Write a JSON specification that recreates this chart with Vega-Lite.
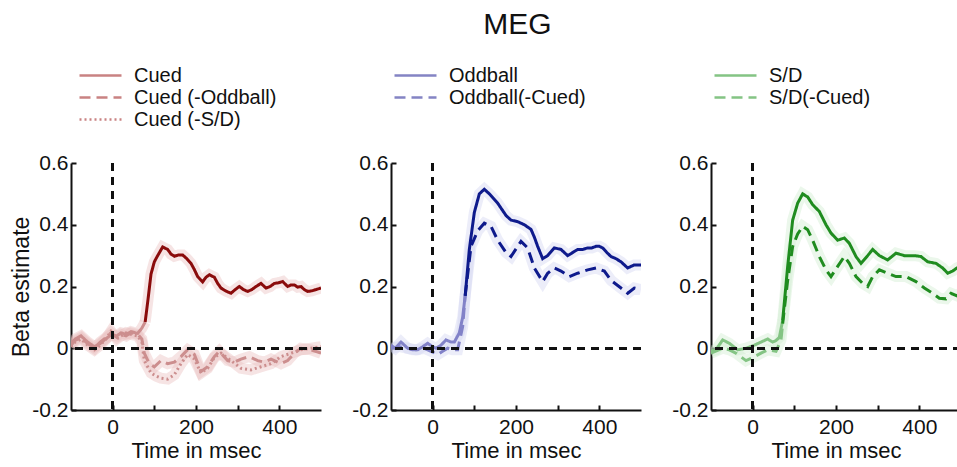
{
  "$schema": "https://vega.github.io/schema/vega-lite/v6.json",
  "padding": {"left": 10, "top": 10, "right": 0, "bottom": 0},
  "background": "white",
  "title": {"text": "MEG", "fontSize": 30, "fontWeight": "normal", "anchor": "middle", "color": "#111", "offset": 24, "dx": 31},
  "config": {
    "font": "Liberation Sans",
    "view": {"stroke": null},
    "axis": {"domainColor": "#111", "domainWidth": 2, "tickColor": "#111", "tickWidth": 2, "tickSize": -5, "labelColor": "#111", "labelFontSize": 21, "titleFontSize": 23, "titleFontWeight": "normal", "titleColor": "#111", "grid": false},
    "axisX": {"labelPadding": 11, "titlePadding": 3, "titleFontSize": 22},
    "axisY": {"labelPadding": 8},
    "legend": {"orient": "none", "symbolType": "M-2.1,0H2.1", "symbolSize": 400, "symbolStrokeWidth": 2.5, "symbolFillColor": "transparent", "labelFontSize": 20, "labelColor": "#111", "labelOffset": 22, "rowPadding": -1, "padding": 0, "title": null}
  },
  "datasets": {
    "cued": [
      {"s":"Cued","k":"light","x":-100,"y":0.016},{"s":"Cued","k":"light","x":-90,"y":0.03},{"s":"Cued","k":"light","x":-76,"y":0.04},{"s":"Cued","k":"light","x":-60,"y":0.02},{"s":"Cued","k":"light","x":-44,"y":0.005},{"s":"Cued","k":"light","x":-30,"y":0.015},{"s":"Cued","k":"light","x":-20,"y":0.027},{"s":"Cued","k":"light","x":-4,"y":0.043},{"s":"Cued","k":"light","x":10,"y":0.04},{"s":"Cued","k":"light","x":20,"y":0.05},{"s":"Cued","k":"light","x":32,"y":0.045},{"s":"Cued","k":"light","x":44,"y":0.054},{"s":"Cued","k":"light","x":60,"y":0.048},{"s":"Cued","k":"light","x":70,"y":0.065},{"s":"Cued","k":"light","x":78,"y":0.085},
      {"s":"Cued","k":"dark","x":78,"y":0.085},{"s":"Cued","k":"dark","x":85,"y":0.16},{"s":"Cued","k":"dark","x":92,"y":0.24},{"s":"Cued","k":"dark","x":100,"y":0.28},{"s":"Cued","k":"dark","x":108,"y":0.30},{"s":"Cued","k":"dark","x":120,"y":0.328},{"s":"Cued","k":"dark","x":132,"y":0.32},{"s":"Cued","k":"dark","x":140,"y":0.305},{"s":"Cued","k":"dark","x":148,"y":0.298},{"s":"Cued","k":"dark","x":158,"y":0.302},{"s":"Cued","k":"dark","x":168,"y":0.302},{"s":"Cued","k":"dark","x":178,"y":0.29},{"s":"Cued","k":"dark","x":188,"y":0.275},{"s":"Cued","k":"dark","x":196,"y":0.255},{"s":"Cued","k":"dark","x":204,"y":0.232},{"s":"Cued","k":"dark","x":216,"y":0.215},{"s":"Cued","k":"dark","x":224,"y":0.23},{"s":"Cued","k":"dark","x":232,"y":0.238},{"s":"Cued","k":"dark","x":244,"y":0.23},{"s":"Cued","k":"dark","x":252,"y":0.21},{"s":"Cued","k":"dark","x":260,"y":0.195},{"s":"Cued","k":"dark","x":272,"y":0.185},{"s":"Cued","k":"dark","x":284,"y":0.178},{"s":"Cued","k":"dark","x":294,"y":0.19},{"s":"Cued","k":"dark","x":304,"y":0.2},{"s":"Cued","k":"dark","x":314,"y":0.19},{"s":"Cued","k":"dark","x":324,"y":0.184},{"s":"Cued","k":"dark","x":334,"y":0.19},{"s":"Cued","k":"dark","x":344,"y":0.2},{"s":"Cued","k":"dark","x":356,"y":0.21},{"s":"Cued","k":"dark","x":368,"y":0.195},{"s":"Cued","k":"dark","x":378,"y":0.2},{"s":"Cued","k":"dark","x":388,"y":0.21},{"s":"Cued","k":"dark","x":398,"y":0.212},{"s":"Cued","k":"dark","x":408,"y":0.216},{"s":"Cued","k":"dark","x":420,"y":0.2},{"s":"Cued","k":"dark","x":428,"y":0.205},{"s":"Cued","k":"dark","x":436,"y":0.205},{"s":"Cued","k":"dark","x":444,"y":0.198},{"s":"Cued","k":"dark","x":452,"y":0.2},{"s":"Cued","k":"dark","x":460,"y":0.19},{"s":"Cued","k":"dark","x":468,"y":0.184},{"s":"Cued","k":"dark","x":478,"y":0.186},{"s":"Cued","k":"dark","x":488,"y":0.19},{"s":"Cued","k":"dark","x":500,"y":0.195},
      {"s":"Cued (-Oddball)","k":"light","x":-100,"y":0.01},{"s":"Cued (-Oddball)","k":"light","x":-90,"y":0.025},{"s":"Cued (-Oddball)","k":"light","x":-76,"y":0.035},{"s":"Cued (-Oddball)","k":"light","x":-60,"y":0.015},{"s":"Cued (-Oddball)","k":"light","x":-44,"y":0.0},{"s":"Cued (-Oddball)","k":"light","x":-30,"y":0.02},{"s":"Cued (-Oddball)","k":"light","x":-16,"y":0.035},{"s":"Cued (-Oddball)","k":"light","x":-4,"y":0.05},{"s":"Cued (-Oddball)","k":"light","x":10,"y":0.035},{"s":"Cued (-Oddball)","k":"light","x":20,"y":0.045},{"s":"Cued (-Oddball)","k":"light","x":32,"y":0.04},{"s":"Cued (-Oddball)","k":"light","x":44,"y":0.05},{"s":"Cued (-Oddball)","k":"light","x":60,"y":0.045},{"s":"Cued (-Oddball)","k":"light","x":70,"y":0.03},{"s":"Cued (-Oddball)","k":"light","x":76,"y":-0.016},{"s":"Cued (-Oddball)","k":"light","x":88,"y":-0.05},{"s":"Cued (-Oddball)","k":"light","x":100,"y":-0.06},{"s":"Cued (-Oddball)","k":"light","x":116,"y":-0.04},{"s":"Cued (-Oddball)","k":"light","x":132,"y":-0.05},{"s":"Cued (-Oddball)","k":"light","x":148,"y":-0.045},{"s":"Cued (-Oddball)","k":"light","x":164,"y":-0.027},{"s":"Cued (-Oddball)","k":"light","x":180,"y":-0.005},{"s":"Cued (-Oddball)","k":"light","x":196,"y":-0.02},{"s":"Cued (-Oddball)","k":"light","x":212,"y":-0.075},{"s":"Cued (-Oddball)","k":"light","x":228,"y":-0.06},{"s":"Cued (-Oddball)","k":"light","x":244,"y":-0.027},{"s":"Cued (-Oddball)","k":"light","x":256,"y":-0.01},{"s":"Cued (-Oddball)","k":"light","x":276,"y":-0.04},{"s":"Cued (-Oddball)","k":"light","x":292,"y":-0.045},{"s":"Cued (-Oddball)","k":"light","x":308,"y":-0.035},{"s":"Cued (-Oddball)","k":"light","x":328,"y":-0.027},{"s":"Cued (-Oddball)","k":"light","x":348,"y":-0.04},{"s":"Cued (-Oddball)","k":"light","x":364,"y":-0.045},{"s":"Cued (-Oddball)","k":"light","x":380,"y":-0.035},{"s":"Cued (-Oddball)","k":"light","x":404,"y":-0.05},{"s":"Cued (-Oddball)","k":"light","x":420,"y":-0.04},{"s":"Cued (-Oddball)","k":"light","x":436,"y":-0.016},{"s":"Cued (-Oddball)","k":"light","x":452,"y":0.0},{"s":"Cued (-Oddball)","k":"light","x":476,"y":-0.005},{"s":"Cued (-Oddball)","k":"light","x":500,"y":-0.016},
      {"s":"Cued (-S/D)","k":"light","x":-100,"y":0.005},{"s":"Cued (-S/D)","k":"light","x":-90,"y":0.02},{"s":"Cued (-S/D)","k":"light","x":-76,"y":0.03},{"s":"Cued (-S/D)","k":"light","x":-60,"y":0.01},{"s":"Cued (-S/D)","k":"light","x":-44,"y":-0.005},{"s":"Cued (-S/D)","k":"light","x":-30,"y":0.01},{"s":"Cued (-S/D)","k":"light","x":-16,"y":0.03},{"s":"Cued (-S/D)","k":"light","x":-4,"y":0.055},{"s":"Cued (-S/D)","k":"light","x":10,"y":0.03},{"s":"Cued (-S/D)","k":"light","x":20,"y":0.04},{"s":"Cued (-S/D)","k":"light","x":32,"y":0.05},{"s":"Cued (-S/D)","k":"light","x":44,"y":0.045},{"s":"Cued (-S/D)","k":"light","x":60,"y":0.04},{"s":"Cued (-S/D)","k":"light","x":70,"y":0.02},{"s":"Cued (-S/D)","k":"light","x":76,"y":-0.04},{"s":"Cued (-S/D)","k":"light","x":92,"y":-0.08},{"s":"Cued (-S/D)","k":"light","x":104,"y":-0.09},{"s":"Cued (-S/D)","k":"light","x":116,"y":-0.097},{"s":"Cued (-S/D)","k":"light","x":132,"y":-0.1},{"s":"Cued (-S/D)","k":"light","x":148,"y":-0.086},{"s":"Cued (-S/D)","k":"light","x":164,"y":-0.05},{"s":"Cued (-S/D)","k":"light","x":180,"y":-0.02},{"s":"Cued (-S/D)","k":"light","x":196,"y":-0.035},{"s":"Cued (-S/D)","k":"light","x":212,"y":-0.08},{"s":"Cued (-S/D)","k":"light","x":228,"y":-0.065},{"s":"Cued (-S/D)","k":"light","x":244,"y":-0.03},{"s":"Cued (-S/D)","k":"light","x":260,"y":-0.016},{"s":"Cued (-S/D)","k":"light","x":284,"y":-0.04},{"s":"Cued (-S/D)","k":"light","x":308,"y":-0.065},{"s":"Cued (-S/D)","k":"light","x":332,"y":-0.07},{"s":"Cued (-S/D)","k":"light","x":356,"y":-0.06},{"s":"Cued (-S/D)","k":"light","x":380,"y":-0.05},{"s":"Cued (-S/D)","k":"light","x":404,"y":-0.027},{"s":"Cued (-S/D)","k":"light","x":428,"y":-0.016},{"s":"Cued (-S/D)","k":"light","x":452,"y":-0.005},{"s":"Cued (-S/D)","k":"light","x":476,"y":0.0},{"s":"Cued (-S/D)","k":"light","x":500,"y":0.005}
    ],
    "odd": [
      {"s":"Oddball","k":"light","x":-100,"y":0.01},{"s":"Oddball","k":"light","x":-90,"y":0.0},{"s":"Oddball","k":"light","x":-76,"y":0.02},{"s":"Oddball","k":"light","x":-60,"y":0.0},{"s":"Oddball","k":"light","x":-48,"y":-0.005},{"s":"Oddball","k":"light","x":-36,"y":-0.005},{"s":"Oddball","k":"light","x":-24,"y":0.005},{"s":"Oddball","k":"light","x":-12,"y":0.016},{"s":"Oddball","k":"light","x":0,"y":0.005},{"s":"Oddball","k":"light","x":8,"y":0.0},{"s":"Oddball","k":"light","x":20,"y":0.01},{"s":"Oddball","k":"light","x":32,"y":0.027},{"s":"Oddball","k":"light","x":44,"y":0.02},{"s":"Oddball","k":"light","x":52,"y":0.02},{"s":"Oddball","k":"light","x":64,"y":0.05},{"s":"Oddball","k":"light","x":72,"y":0.1},{"s":"Oddball","k":"light","x":78,"y":0.17},
      {"s":"Oddball","k":"dark","x":78,"y":0.17},{"s":"Oddball","k":"dark","x":88,"y":0.32},{"s":"Oddball","k":"dark","x":100,"y":0.44},{"s":"Oddball","k":"dark","x":112,"y":0.5},{"s":"Oddball","k":"dark","x":124,"y":0.515},{"s":"Oddball","k":"dark","x":136,"y":0.5},{"s":"Oddball","k":"dark","x":146,"y":0.485},{"s":"Oddball","k":"dark","x":156,"y":0.47},{"s":"Oddball","k":"dark","x":166,"y":0.45},{"s":"Oddball","k":"dark","x":176,"y":0.43},{"s":"Oddball","k":"dark","x":188,"y":0.415},{"s":"Oddball","k":"dark","x":204,"y":0.41},{"s":"Oddball","k":"dark","x":220,"y":0.4},{"s":"Oddball","k":"dark","x":236,"y":0.385},{"s":"Oddball","k":"dark","x":244,"y":0.36},{"s":"Oddball","k":"dark","x":252,"y":0.33},{"s":"Oddball","k":"dark","x":264,"y":0.29},{"s":"Oddball","k":"dark","x":276,"y":0.3},{"s":"Oddball","k":"dark","x":292,"y":0.325},{"s":"Oddball","k":"dark","x":308,"y":0.32},{"s":"Oddball","k":"dark","x":324,"y":0.3},{"s":"Oddball","k":"dark","x":336,"y":0.31},{"s":"Oddball","k":"dark","x":348,"y":0.32},{"s":"Oddball","k":"dark","x":360,"y":0.32},{"s":"Oddball","k":"dark","x":372,"y":0.325},{"s":"Oddball","k":"dark","x":382,"y":0.325},{"s":"Oddball","k":"dark","x":392,"y":0.33},{"s":"Oddball","k":"dark","x":400,"y":0.33},{"s":"Oddball","k":"dark","x":408,"y":0.325},{"s":"Oddball","k":"dark","x":418,"y":0.31},{"s":"Oddball","k":"dark","x":428,"y":0.297},{"s":"Oddball","k":"dark","x":440,"y":0.29},{"s":"Oddball","k":"dark","x":452,"y":0.28},{"s":"Oddball","k":"dark","x":460,"y":0.27},{"s":"Oddball","k":"dark","x":468,"y":0.26},{"s":"Oddball","k":"dark","x":476,"y":0.265},{"s":"Oddball","k":"dark","x":484,"y":0.27},{"s":"Oddball","k":"dark","x":492,"y":0.27},{"s":"Oddball","k":"dark","x":500,"y":0.27},
      {"s":"Oddball(-Cued)","k":"light","x":-100,"y":0.0},{"s":"Oddball(-Cued)","k":"light","x":-80,"y":0.005},{"s":"Oddball(-Cued)","k":"light","x":-60,"y":0.0},{"s":"Oddball(-Cued)","k":"light","x":-40,"y":-0.005},{"s":"Oddball(-Cued)","k":"light","x":-20,"y":0.0},{"s":"Oddball(-Cued)","k":"light","x":-4,"y":-0.01},{"s":"Oddball(-Cued)","k":"light","x":12,"y":-0.02},{"s":"Oddball(-Cued)","k":"light","x":24,"y":-0.01},{"s":"Oddball(-Cued)","k":"light","x":36,"y":0.0},{"s":"Oddball(-Cued)","k":"light","x":48,"y":-0.005},{"s":"Oddball(-Cued)","k":"light","x":60,"y":-0.005},{"s":"Oddball(-Cued)","k":"light","x":72,"y":0.07},{"s":"Oddball(-Cued)","k":"light","x":78,"y":0.17},
      {"s":"Oddball(-Cued)","k":"dark","x":78,"y":0.17},{"s":"Oddball(-Cued)","k":"dark","x":92,"y":0.33},{"s":"Oddball(-Cued)","k":"dark","x":108,"y":0.38},{"s":"Oddball(-Cued)","k":"dark","x":124,"y":0.405},{"s":"Oddball(-Cued)","k":"dark","x":140,"y":0.395},{"s":"Oddball(-Cued)","k":"dark","x":156,"y":0.35},{"s":"Oddball(-Cued)","k":"dark","x":176,"y":0.31},{"s":"Oddball(-Cued)","k":"dark","x":188,"y":0.297},{"s":"Oddball(-Cued)","k":"dark","x":204,"y":0.33},{"s":"Oddball(-Cued)","k":"dark","x":212,"y":0.346},{"s":"Oddball(-Cued)","k":"dark","x":228,"y":0.325},{"s":"Oddball(-Cued)","k":"dark","x":244,"y":0.26},{"s":"Oddball(-Cued)","k":"dark","x":264,"y":0.216},{"s":"Oddball(-Cued)","k":"dark","x":276,"y":0.243},{"s":"Oddball(-Cued)","k":"dark","x":292,"y":0.26},{"s":"Oddball(-Cued)","k":"dark","x":308,"y":0.25},{"s":"Oddball(-Cued)","k":"dark","x":328,"y":0.232},{"s":"Oddball(-Cued)","k":"dark","x":348,"y":0.243},{"s":"Oddball(-Cued)","k":"dark","x":372,"y":0.254},{"s":"Oddball(-Cued)","k":"dark","x":392,"y":0.26},{"s":"Oddball(-Cued)","k":"dark","x":412,"y":0.25},{"s":"Oddball(-Cued)","k":"dark","x":428,"y":0.22},{"s":"Oddball(-Cued)","k":"dark","x":452,"y":0.195},{"s":"Oddball(-Cued)","k":"dark","x":468,"y":0.178},{"s":"Oddball(-Cued)","k":"dark","x":484,"y":0.195},{"s":"Oddball(-Cued)","k":"dark","x":500,"y":0.19}
    ],
    "sd": [
      {"s":"S/D","k":"light","x":-100,"y":-0.01},{"s":"S/D","k":"light","x":-88,"y":-0.005},{"s":"S/D","k":"light","x":-72,"y":0.027},{"s":"S/D","k":"light","x":-56,"y":0.016},{"s":"S/D","k":"light","x":-36,"y":-0.005},{"s":"S/D","k":"light","x":-16,"y":0.0},{"s":"S/D","k":"light","x":4,"y":0.01},{"s":"S/D","k":"light","x":20,"y":0.02},{"s":"S/D","k":"light","x":36,"y":0.03},{"s":"S/D","k":"light","x":48,"y":0.02},{"s":"S/D","k":"light","x":56,"y":0.025},{"s":"S/D","k":"light","x":64,"y":0.035},{"s":"S/D","k":"light","x":72,"y":0.09},
      {"s":"S/D","k":"dark","x":72,"y":0.09},{"s":"S/D","k":"dark","x":84,"y":0.265},{"s":"S/D","k":"dark","x":96,"y":0.415},{"s":"S/D","k":"dark","x":108,"y":0.47},{"s":"S/D","k":"dark","x":120,"y":0.5},{"s":"S/D","k":"dark","x":132,"y":0.49},{"s":"S/D","k":"dark","x":144,"y":0.465},{"s":"S/D","k":"dark","x":160,"y":0.443},{"s":"S/D","k":"dark","x":176,"y":0.4},{"s":"S/D","k":"dark","x":188,"y":0.373},{"s":"S/D","k":"dark","x":204,"y":0.35},{"s":"S/D","k":"dark","x":220,"y":0.357},{"s":"S/D","k":"dark","x":232,"y":0.34},{"s":"S/D","k":"dark","x":248,"y":0.297},{"s":"S/D","k":"dark","x":260,"y":0.275},{"s":"S/D","k":"dark","x":276,"y":0.3},{"s":"S/D","k":"dark","x":288,"y":0.32},{"s":"S/D","k":"dark","x":304,"y":0.3},{"s":"S/D","k":"dark","x":324,"y":0.286},{"s":"S/D","k":"dark","x":344,"y":0.308},{"s":"S/D","k":"dark","x":364,"y":0.3},{"s":"S/D","k":"dark","x":388,"y":0.3},{"s":"S/D","k":"dark","x":404,"y":0.297},{"s":"S/D","k":"dark","x":420,"y":0.28},{"s":"S/D","k":"dark","x":440,"y":0.275},{"s":"S/D","k":"dark","x":456,"y":0.26},{"s":"S/D","k":"dark","x":468,"y":0.243},{"s":"S/D","k":"dark","x":480,"y":0.25},{"s":"S/D","k":"dark","x":490,"y":0.26},{"s":"S/D","k":"dark","x":500,"y":0.265},
      {"s":"S/D(-Cued)","k":"light","x":-100,"y":-0.016},{"s":"S/D(-Cued)","k":"light","x":-72,"y":0.0},{"s":"S/D(-Cued)","k":"light","x":-56,"y":-0.005},{"s":"S/D(-Cued)","k":"light","x":-40,"y":-0.016},{"s":"S/D(-Cued)","k":"light","x":-16,"y":-0.04},{"s":"S/D(-Cued)","k":"light","x":0,"y":-0.03},{"s":"S/D(-Cued)","k":"light","x":20,"y":-0.016},{"s":"S/D(-Cued)","k":"light","x":36,"y":-0.005},{"s":"S/D(-Cued)","k":"light","x":56,"y":-0.01},{"s":"S/D(-Cued)","k":"light","x":68,"y":0.027},{"s":"S/D(-Cued)","k":"light","x":72,"y":0.08},
      {"s":"S/D(-Cued)","k":"dark","x":72,"y":0.08},{"s":"S/D(-Cued)","k":"dark","x":84,"y":0.22},{"s":"S/D(-Cued)","k":"dark","x":96,"y":0.33},{"s":"S/D(-Cued)","k":"dark","x":108,"y":0.37},{"s":"S/D(-Cued)","k":"dark","x":120,"y":0.395},{"s":"S/D(-Cued)","k":"dark","x":132,"y":0.384},{"s":"S/D(-Cued)","k":"dark","x":144,"y":0.35},{"s":"S/D(-Cued)","k":"dark","x":160,"y":0.297},{"s":"S/D(-Cued)","k":"dark","x":176,"y":0.254},{"s":"S/D(-Cued)","k":"dark","x":188,"y":0.232},{"s":"S/D(-Cued)","k":"dark","x":204,"y":0.265},{"s":"S/D(-Cued)","k":"dark","x":220,"y":0.297},{"s":"S/D(-Cued)","k":"dark","x":232,"y":0.275},{"s":"S/D(-Cued)","k":"dark","x":248,"y":0.232},{"s":"S/D(-Cued)","k":"dark","x":264,"y":0.21},{"s":"S/D(-Cued)","k":"dark","x":276,"y":0.2},{"s":"S/D(-Cued)","k":"dark","x":288,"y":0.232},{"s":"S/D(-Cued)","k":"dark","x":304,"y":0.254},{"s":"S/D(-Cued)","k":"dark","x":324,"y":0.243},{"s":"S/D(-Cued)","k":"dark","x":344,"y":0.232},{"s":"S/D(-Cued)","k":"dark","x":368,"y":0.232},{"s":"S/D(-Cued)","k":"dark","x":392,"y":0.216},{"s":"S/D(-Cued)","k":"dark","x":412,"y":0.195},{"s":"S/D(-Cued)","k":"dark","x":432,"y":0.178},{"s":"S/D(-Cued)","k":"dark","x":448,"y":0.162},{"s":"S/D(-Cued)","k":"dark","x":464,"y":0.16},{"s":"S/D(-Cued)","k":"dark","x":476,"y":0.178},{"s":"S/D(-Cued)","k":"dark","x":490,"y":0.17},{"s":"S/D(-Cued)","k":"dark","x":500,"y":0.18}
    ]
  },
  "spacing": 70,
  "bounds": "flush",
  "resolve": {"scale": {"color": "independent", "strokeDash": "independent"}, "legend": {"color": "independent", "strokeDash": "independent"}},
  "hconcat": [
    {
      "width": 250, "height": 247,
      "data": {"name": "cued"},
      "encoding": {
        "x": {"field": "x", "type": "quantitative", "scale": {"domain": [-100, 500], "nice": false, "zero": false}, "axis": {"title": "Time in msec", "values": [0, 100, 200, 300, 400], "labelExpr": "datum.value % 200 === 0 ? datum.label : ''"}},
        "y": {"field": "y", "type": "quantitative", "scale": {"domain": [-0.2, 0.6], "nice": false}, "axis": {"title": "Beta estimate", "titlePadding": -2, "values": [-0.2, 0, 0.2, 0.4, 0.6], "labelExpr": "datum.value == 0 ? '0' : replace(format(datum.value, '.1f'), '\u2212', '-')"}}
      },
      "layer": [
        {"mark": {"type": "line", "strokeWidth": 11, "opacity": 0.4, "color": "#e8bcbc", "clip": true}, "encoding": {"detail": [{"field": "s"}, {"field": "k"}]}},
        {"mark": {"type": "line", "strokeWidth": 3, "clip": true}, "encoding": {
          "color": {"field": "k", "type": "nominal", "scale": {"domain": ["light", "dark"], "range": ["#cc8e8e", "#8a0b0b"]}, "legend": null},
          "strokeDash": {"field": "s", "type": "nominal", "scale": {"domain": ["Cued", "Cued (-Oddball)", "Cued (-S/D)"], "range": [[1, 0], [11, 6], [2, 3]]}, "legend": {"legendX": 18, "legendY": -99, "symbolStrokeColor": "#c98282"}}
        }},
        {"mark": {"type": "rule", "strokeDash": [8, 6], "color": "#111", "strokeWidth": 2}, "encoding": {"y": {"datum": 0}, "x": null}},
        {"mark": {"type": "rule", "strokeDash": [8, 6], "color": "#111", "strokeWidth": 2}, "encoding": {"x": {"datum": 0}, "y": null}}
      ]
    },
    {
      "width": 250, "height": 247,
      "data": {"name": "odd"},
      "encoding": {
        "x": {"field": "x", "type": "quantitative", "scale": {"domain": [-100, 500], "nice": false, "zero": false}, "axis": {"title": "Time in msec", "values": [0, 100, 200, 300, 400], "labelExpr": "datum.value % 200 === 0 ? datum.label : ''"}},
        "y": {"field": "y", "type": "quantitative", "scale": {"domain": [-0.2, 0.6], "nice": false}, "axis": {"title": null, "values": [-0.2, 0, 0.2, 0.4, 0.6], "labelExpr": "datum.value == 0 ? '0' : replace(format(datum.value, '.1f'), '\u2212', '-')"}}
      },
      "layer": [
        {"mark": {"type": "line", "strokeWidth": 11, "opacity": 0.4, "color": "#cfd3f0", "clip": true}, "encoding": {"detail": [{"field": "s"}, {"field": "k"}]}},
        {"mark": {"type": "line", "strokeWidth": 3, "clip": true}, "encoding": {
          "color": {"field": "k", "type": "nominal", "scale": {"domain": ["light", "dark"], "range": ["#8282c8", "#0e1a8c"]}, "legend": null},
          "strokeDash": {"field": "s", "type": "nominal", "scale": {"domain": ["Oddball", "Oddball(-Cued)"], "range": [[1, 0], [11, 6]]}, "legend": {"legendX": 13, "legendY": -99, "symbolStrokeColor": "#8484c4"}}
        }},
        {"mark": {"type": "rule", "strokeDash": [8, 6], "color": "#111", "strokeWidth": 2}, "encoding": {"y": {"datum": 0}, "x": null}},
        {"mark": {"type": "rule", "strokeDash": [8, 6], "color": "#111", "strokeWidth": 2}, "encoding": {"x": {"datum": 0}, "y": null}}
      ]
    },
    {
      "width": 250, "height": 247,
      "data": {"name": "sd"},
      "encoding": {
        "x": {"field": "x", "type": "quantitative", "scale": {"domain": [-100, 500], "nice": false, "zero": false}, "axis": {"title": "Time in msec", "values": [0, 100, 200, 300, 400], "labelExpr": "datum.value % 200 === 0 ? datum.label : ''"}},
        "y": {"field": "y", "type": "quantitative", "scale": {"domain": [-0.2, 0.6], "nice": false}, "axis": {"title": null, "values": [-0.2, 0, 0.2, 0.4, 0.6], "labelExpr": "datum.value == 0 ? '0' : replace(format(datum.value, '.1f'), '\u2212', '-')"}}
      },
      "layer": [
        {"mark": {"type": "line", "strokeWidth": 11, "opacity": 0.4, "color": "#cdeacd", "clip": true}, "encoding": {"detail": [{"field": "s"}, {"field": "k"}]}},
        {"mark": {"type": "line", "strokeWidth": 3, "clip": true}, "encoding": {
          "color": {"field": "k", "type": "nominal", "scale": {"domain": ["light", "dark"], "range": ["#84c484", "#1f8c1f"]}, "legend": null},
          "strokeDash": {"field": "s", "type": "nominal", "scale": {"domain": ["S/D", "S/D(-Cued)"], "range": [[1, 0], [11, 6]]}, "legend": {"legendX": 13, "legendY": -99, "symbolStrokeColor": "#84c484"}}
        }},
        {"mark": {"type": "rule", "strokeDash": [8, 6], "color": "#111", "strokeWidth": 2}, "encoding": {"y": {"datum": 0}, "x": null}},
        {"mark": {"type": "rule", "strokeDash": [8, 6], "color": "#111", "strokeWidth": 2}, "encoding": {"x": {"datum": 0}, "y": null}}
      ]
    }
  ]
}
